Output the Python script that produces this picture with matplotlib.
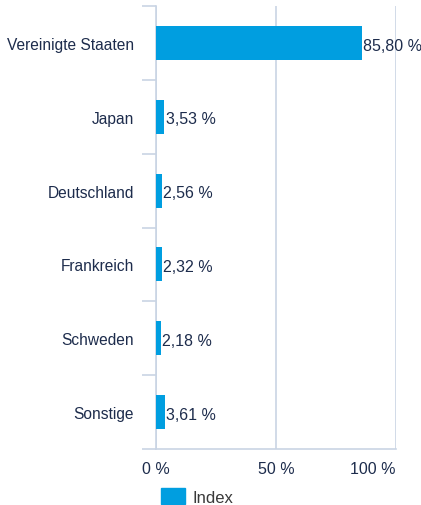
import numpy as np
import matplotlib.pyplot as plt
import matplotlib as mpl
from matplotlib.patches import Patch
mpl.rcParams['font.family'] = 'sans-serif'
mpl.rcParams['font.sans-serif'] = ['Liberation Sans']

countries = ['Vereinigte Staaten', 'Japan', 'Deutschland', 'Frankreich', 'Schweden', 'Sonstige']
shares = [85.80, 3.53, 2.56, 2.32, 2.18, 3.61]
xticks = [0, 50, 100]
series_name = 'Index'

bar_col = '#009ee0'
text_col = '#1d2c4c'
grid_col = '#c9d4e4'

W, H = 421, 506
fig = plt.figure(figsize=(W / 100, H / 100), dpi=100)
ax = fig.add_axes([156 / W, 1 - 450 / H, 240 / W, 443 / H])

y = np.arange(len(countries))
ax.barh(y, shares, height=0.46, color=bar_col, zorder=3)
for yi, v in zip(y, shares):
    ax.text(v + 0.5, yi + 0.03, f'{v:.2f} %'.replace('.', ','), va='center', ha='left',
            fontsize=11.5, color=text_col, zorder=4)

ax.set_xlim(0, 100)
ax.set_ylim(len(countries) - 0.5, -0.5)

ax.set_xticks(xticks)
ax.set_xticklabels([f'{t} %' for t in xticks])
ax.get_xticklabels()[-1].set_horizontalalignment('right')
ax.set_yticks(y)
ax.set_yticklabels(countries)
ax.set_yticks(np.arange(len(countries) + 1) - 0.5, minor=True)
ax.tick_params(axis='y', which='major', length=0, pad=16, labelsize=11.2, labelcolor=text_col)
ax.tick_params(axis='y', which='minor', length=10, width=1.2, color=grid_col)
ax.tick_params(axis='x', length=0, pad=9, labelsize=11.5, labelcolor=text_col)

ax.grid(axis='x', color=grid_col, linewidth=1.2, zorder=0)
for s in ['top', 'right']:
    ax.spines[s].set_visible(False)
for s in ['left', 'bottom']:
    ax.spines[s].set_color(grid_col)
    ax.spines[s].set_linewidth(1.2)

fig.legend(handles=[Patch(color=bar_col, label=series_name)], loc='upper left',
           bbox_to_anchor=(149 / W, 1 - 477 / H), frameon=False, fontsize=12,
           handlelength=1.45, handleheight=1.15, handletextpad=0.45,
           borderpad=0.2, labelcolor='#3a3a3a')

fig.savefig('out.png', dpi=100)
